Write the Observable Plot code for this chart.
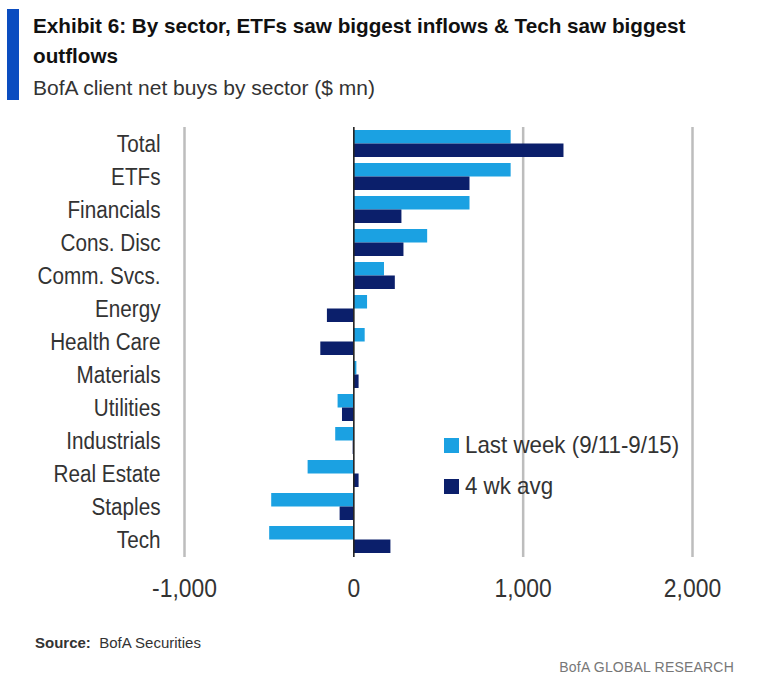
<!DOCTYPE html>
<html>
<head>
<meta charset="utf-8">
<script src="https://cdn.jsdelivr.net/npm/d3@7"></script>
<script src="https://cdn.jsdelivr.net/npm/@observablehq/plot@0.6"></script>
<style>
  html, body { margin: 0; padding: 0; background: #fff; }
  body { width: 758px; height: 689px; position: relative; overflow: hidden;
         font-family: "Liberation Sans", Arial, sans-serif; color: #222; }
  .abs { position: absolute; white-space: nowrap; }
  .cond { display: inline-block; transform: scaleX(0.93); transform-origin: 0 50%; }
  #bar { left: 7px; top: 9px; width: 12px; height: 91px; background: #0b4dc0; }
  #title { left: 33px; top: 11px; font-size: 21px; line-height: 30px; font-weight: bold; color: #111;
           transform: scaleX(0.985); transform-origin: 0 0; }
  #subtitle { left: 33px; top: 75px; font-size: 21px; line-height: 26px; color: #333; }
  #chart { left: 0; top: 110px; }
  .leg { font-size: 24px; line-height: 28px; color: #333; display: flex; align-items: center; }
  .sw { width: 15px; height: 15px; display: inline-block; margin-right: 6px; flex: none; }
  #source { left: 35px; top: 634px; font-size: 15px; color: #333; }
  #brand { right: 24px; top: 659px; font-size: 14px; color: #777; letter-spacing: 0.2px; }
</style>
</head>
<body>
<div id="chart" class="abs"></div>
<div id="bar" class="abs"></div>
<div id="title" class="abs">Exhibit 6: By sector, ETFs saw biggest inflows &amp; Tech saw biggest<br>outflows</div>
<div id="subtitle" class="abs">BofA client net buys by sector ($ mn)</div>
<div id="legend"></div>
<div id="source" class="abs"><b>Source:</b>&nbsp; BofA Securities</div>
<div id="brand" class="abs">BofA GLOBAL RESEARCH</div>
<script>
// ---- data ----
const sectors = ["Total", "ETFs", "Financials", "Cons. Disc", "Comm. Svcs.", "Energy", "Health Care",
                 "Materials", "Utilities", "Industrials", "Real Estate", "Staples", "Tech"];
const lastWeek  = [929, 929, 686, 436, 181, 81, 67, 18, -93, -107, -270, -485, -497];
const fourWkAvg = [1241, 686, 284, 296, 245, -156, -195, 31, -67, -4, 31, -81, 219];
const seriesNames = ["Last week (9/11-9/15)", "4 wk avg"];
const seriesColors = ["#1ba1e2", "#0b1f6b"];
const xTicks = [-1000, 0, 1000, 2000];
const gridTicks = [-1000, 1000, 2000];

const rows = sectors.flatMap((s, i) => [
  {sector: s, series: seriesNames[0], value: lastWeek[i]},
  {sector: s, series: seriesNames[1], value: fourWkAvg[i]}
]);

const fmt = d => d3.format(",")(d).replace("\u2212", "-");

const plot = Plot.plot({
  width: 758,
  height: 500,
  marginTop: 14,
  marginBottom: 51,
  marginLeft: 184,
  marginRight: 66,
  style: {fontFamily: '"Liberation Sans", Arial, sans-serif', background: "transparent", color: "#333"},
  x: {domain: [-1000, 2000]},
  y: {domain: sectors, padding: 0.18},
  color: {domain: seriesNames, range: seriesColors},
  marks: [
    Plot.ruleX(gridTicks, {stroke: "#bdbdbd", strokeWidth: 2.5, insetTop: 3, insetBottom: 2}),
    Plot.barX(rows.filter(d => d.series === seriesNames[0]),
      {x: "value", y: "sector", fill: "series", insetBottom: 13.5}),
    Plot.barX(rows.filter(d => d.series === seriesNames[1]),
      {x: "value", y: "sector", fill: "series", insetTop: 13.5}),
    Plot.ruleX([0], {stroke: "#222", strokeWidth: 1.6, insetTop: 3, insetBottom: 2}),
    Plot.axisY({tickSize: 0, tickPadding: 24, fontSize: 23.5, label: null}),
    Plot.axisX({ticks: xTicks, tickFormat: fmt, tickSize: 0, tickPadding: 19, fontSize: 26, label: null})
  ]
});
document.getElementById("chart").appendChild(plot);

// condense axis label glyphs (narrow typeface look)
plot.querySelectorAll("text").forEach(t => {
  const L = t.getComputedTextLength();
  if (L > 0) {
    t.setAttribute("textLength", (L * 0.88).toFixed(2));
    t.setAttribute("lengthAdjust", "spacingAndGlyphs");
  }
});

// legend (HTML overlay)
const leg = document.getElementById("legend");
const legTops = [431, 472];
seriesNames.forEach((name, i) => {
  const item = document.createElement("div");
  item.className = "abs leg";
  item.style.left = "444px";
  item.style.top = legTops[i] + "px";
  item.innerHTML = `<span class="sw" style="background:${seriesColors[i]}"></span><span class="cond">${name}</span>`;
  leg.appendChild(item);
});
</script>
</body>
</html>
